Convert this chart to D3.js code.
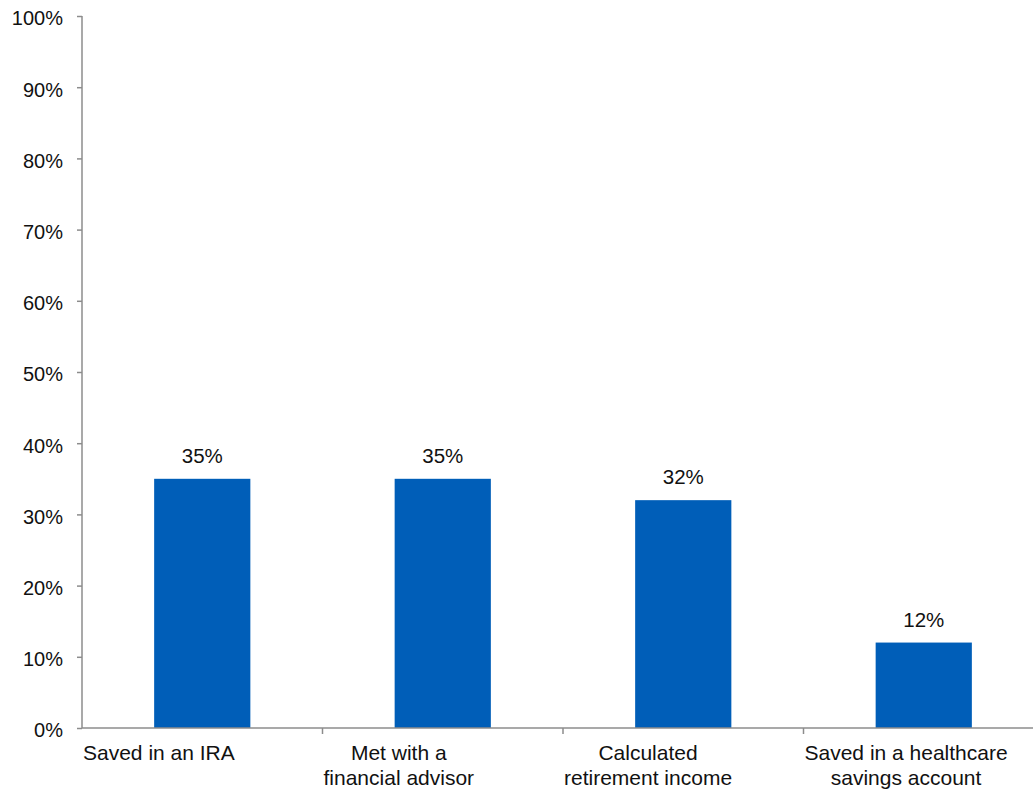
<!DOCTYPE html>
<html>
<head>
<meta charset="utf-8">
<script src="https://cdn.jsdelivr.net/npm/d3@7"></script>
<style>
  html, body { margin: 0; padding: 0; background: #fff; }
  svg { display: block; font-family: "Liberation Sans", Arial, sans-serif; }
</style>
</head>
<body>
<svg id="chart" width="1033" height="789"></svg>
<script>
// Survey responses: share of respondents taking each action
const categories = [
  ["Saved in an IRA"],
  ["Met with a", "financial advisor"],
  ["Calculated", "retirement income"],
  ["Saved in a healthcare", "savings account"]
];
const values = [0.35, 0.35, 0.32, 0.12];
const yTicks = [0, 0.1, 0.2, 0.3, 0.4, 0.5, 0.6, 0.7, 0.8, 0.9, 1.0];

(function draw() {
  const svg = d3.select("#chart");
  const axisColor = "#8c8c8c";
  const barColor = "#005EB8";

  const plotLeft = 82, plotRight = 1044, plotTop = 16, plotBottom = 728;

  const keys = categories.map((c, i) => i);
  const x = d3.scaleBand().domain(keys).range([plotLeft, plotRight])
    .paddingInner(0.6).paddingOuter(0.3);
  const y = d3.scaleLinear().domain([0, 1]).range([plotBottom, plotTop]);
  const step = x.step();
  // left edge of each category slot
  const slotStart = i => x(i) - step * x.paddingInner() / 2;

  // Bars
  svg.append("g").selectAll("rect").data(values).join("rect")
    .attr("x", (d, i) => x(i))
    .attr("width", x.bandwidth())
    .attr("y", d => y(d))
    .attr("height", d => y(0) - y(d))
    .attr("fill", barColor);

  // Value labels
  svg.append("g").selectAll("text").data(values).join("text")
    .attr("x", (d, i) => x(i) + x.bandwidth() / 2)
    .attr("y", d => y(d) - 16)
    .attr("text-anchor", "middle")
    .attr("font-size", 20.5)
    .attr("fill", "#111")
    .text(d => d3.format(".0%")(d));

  // Y axis
  const yAxis = d3.axisLeft(y).tickValues(yTicks).tickFormat(d3.format(".0%"))
    .tickSize(5).tickPadding(14);
  const gy = svg.append("g").attr("transform", `translate(${plotLeft},0)`).call(yAxis);
  gy.select(".domain").attr("stroke", axisColor).attr("stroke-width", 1.5)
    .attr("d", `M0,${plotTop}V${plotBottom}`);
  gy.selectAll(".tick line").attr("stroke", axisColor).attr("stroke-width", 1.5);
  gy.selectAll(".tick text").attr("font-size", 20).attr("fill", "#111")
    .attr("font-family", "Liberation Sans, Arial, sans-serif")
    .attr("dy", "0.44em");

  // X axis: baseline and category dividers
  const boundaries = keys.slice(1).map(slotStart);
  const gx = svg.append("g");
  gx.append("line")
    .attr("x1", plotLeft).attr("x2", plotRight)
    .attr("y1", y(0)).attr("y2", y(0))
    .attr("stroke", axisColor).attr("stroke-width", 1.5);
  gx.selectAll("line.div").data(boundaries).join("line")
    .attr("class", "div")
    .attr("x1", d => d).attr("x2", d => d)
    .attr("y1", y(0)).attr("y2", y(0) + 6)
    .attr("stroke", axisColor).attr("stroke-width", 1.5);

  // Category labels: wrapped block starts at the slot's left edge,
  // each line centred within the block
  const lbl = svg.append("g").selectAll("text").data(categories).join("text")
    .attr("text-anchor", "middle")
    .attr("font-size", 21)
    .attr("fill", "#111");
  lbl.each(function(lines, i) {
    const t = d3.select(this);
    const spans = lines.map((line, j) =>
      t.append("tspan")
        .attr("y", y(0) + 32 + j * 24.5)
        .text(line));
    const widest = d3.max(spans, s => s.node().getComputedTextLength());
    const cx = slotStart(i) + 1 + widest / 2;
    spans.forEach(s => s.attr("x", cx));
  });
})();
</script>
</body>
</html>
